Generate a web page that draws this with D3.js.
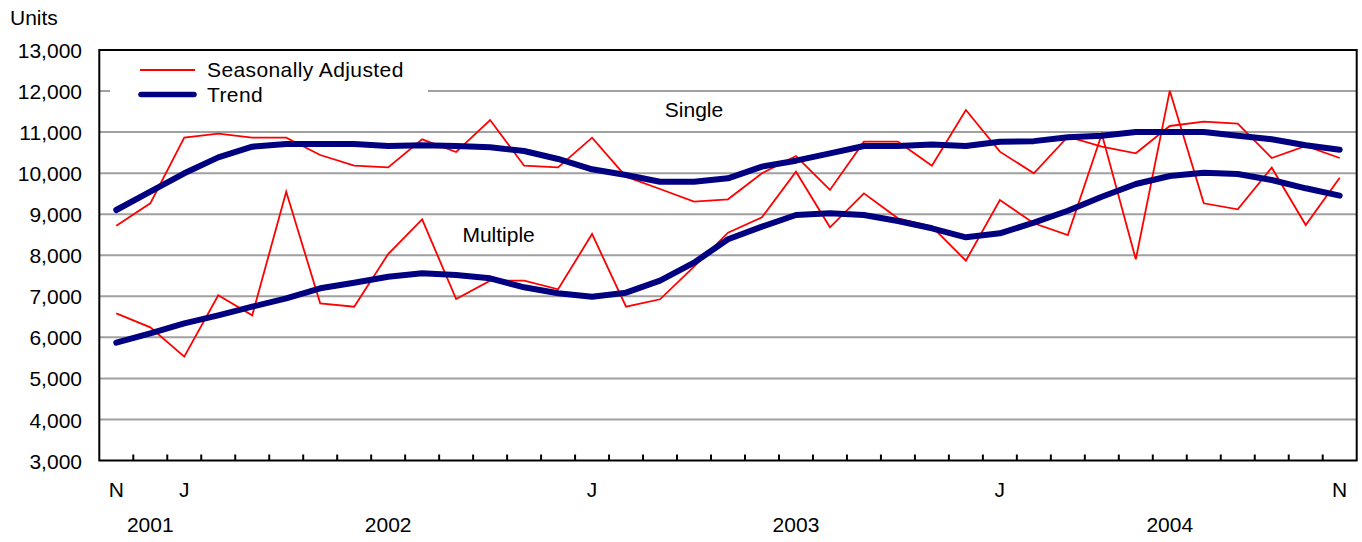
<!DOCTYPE html>
<html>
<head>
<meta charset="utf-8">
<script src="https://cdn.jsdelivr.net/npm/d3@7"></script>
<style>
  html, body { margin: 0; padding: 0; background: #fff; }
  svg { display: block; font-family: "Liberation Sans", Arial, Helvetica, sans-serif; }
</style>
</head>
<body>
<svg id="chart" width="1362" height="542"></svg>
<script>
// ---- Data ----
const months = [
  "2001-11","2001-12",
  "2002-01","2002-02","2002-03","2002-04","2002-05","2002-06","2002-07","2002-08","2002-09","2002-10","2002-11","2002-12",
  "2003-01","2003-02","2003-03","2003-04","2003-05","2003-06","2003-07","2003-08","2003-09","2003-10","2003-11","2003-12",
  "2004-01","2004-02","2004-03","2004-04","2004-05","2004-06","2004-07","2004-08","2004-09","2004-10","2004-11"
];

const singleSA = [
  8720, 9265, 10864, 10961, 10864, 10864, 10442, 10182, 10142, 10824, 10515, 11295,
  10182, 10142, 10864, 9914, 9614, 9305, 9363, 9996, 10418, 9590, 10767, 10767,
  10182, 11538, 10524, 9996, 10889, 10645, 10483, 11149, 11254, 11205, 10369, 10661, 10369
];
const singleTrend = [
  9102, 9549, 9996, 10385, 10645, 10710, 10710, 10710, 10661, 10680, 10661, 10629,
  10540, 10345, 10093, 9955, 9792, 9792, 9874, 10158, 10304, 10483, 10661, 10661,
  10700, 10661, 10767, 10780, 10873, 10913, 11003, 11003, 11003, 10913, 10824, 10678, 10572
];
const multipleSA = [
  6585, 6244, 5529, 7024, 6537, 9549, 6829, 6747, 8030, 8875, 6934, 7381,
  7381, 7170, 8518, 6747, 6927, 7722, 8550, 8924, 10036, 8680, 9508, 8900,
  8696, 7868, 9346, 8778, 8493, 10954, 7901, 12009, 9265, 9119, 10133, 8737, 9889
];
const multipleTrend = [
  5870, 6099, 6342, 6537, 6747, 6951, 7195, 7331, 7478, 7560, 7519, 7438,
  7219, 7073, 6990, 7088, 7381, 7819, 8389, 8696, 8981, 9022, 8981, 8834,
  8657, 8437, 8535, 8793, 9085, 9426, 9736, 9931, 10011, 9979, 9833, 9631, 9451
];

const yTicks = [3000, 4000, 5000, 6000, 7000, 8000, 9000, 10000, 11000, 12000, 13000];
const monthTickMonths = ["2001-11", "2002-01", "2003-01", "2004-01", "2004-11"];
const monthTickLetters = ["N", "J", "J", "J", "N"];
const yearLabels = ["2001", "2002", "2003", "2004"];
const yearLabelMonths = ["2001-12", "2002-07", "2003-07", "2004-06"];
const seriesNames = ["Seasonally Adjusted", "Trend"];
const seriesLabels = ["Single", "Multiple"];
const seriesLabelMonthPos = [17, 11.25];   // month index (fractional) of label centre
const seriesLabelValues = [11368, 8323];

// ---- Layout ----
const FS = 21;
const svg = d3.select("#chart");
const plot = { left: 99.3, right: 1356.7, top: 50, bottom: 460.5 };

const x = d3.scaleBand().domain(months).range([plot.left, plot.right]).paddingInner(0).paddingOuter(0);
const bw = x.bandwidth();
const xc = m => x(m) + bw / 2;
const xi = d3.scaleLinear().domain([0, months.length - 1]).range([xc(months[0]), xc(months[months.length - 1])]);
const y = d3.scaleLinear().domain([3000, 13000]).range([plot.bottom, plot.top]);

const RED = "#ff0000";
const NAVY = "#000080";

// gridlines
svg.append("g").selectAll("line")
  .data(yTicks.filter(v => v > 3000 && v < 13000))
  .join("line")
  .attr("x1", plot.left).attr("x2", plot.right)
  .attr("y1", d => y(d)).attr("y2", d => y(d))
  .attr("stroke", "#a0a0a0").attr("stroke-width", 2);

// y axis labels
const yAxis = d3.axisLeft(y).tickValues(yTicks).tickSize(0).tickPadding(0)
  .tickFormat(d3.format(","));
const yg = svg.append("g").attr("transform", `translate(${82},0)`).call(yAxis);
yg.select(".domain").remove();
yg.selectAll("text").attr("font-size", FS).attr("fill", "#000")
  .attr("font-family", "'Liberation Sans', Arial, sans-serif").attr("dy", "0.36em");

// "Units"
svg.append("text").attr("x", 10).attr("y", 25).attr("font-size", FS).text("Units");

// legend background
svg.append("rect").attr("x", 110).attr("y", 52).attr("width", 318).attr("height", 60).attr("fill", "#fff");

// lines
const lineGen = vals => d3.line().x((d, i) => xc(months[i])).y(d => y(d))(vals);

[singleSA, multipleSA].forEach(v => {
  svg.append("path").attr("d", lineGen(v)).attr("fill", "none")
    .attr("stroke", RED).attr("stroke-width", 1.8).attr("stroke-linejoin", "miter");
});
[singleTrend, multipleTrend].forEach(v => {
  svg.append("path").attr("d", lineGen(v)).attr("fill", "none")
    .attr("stroke", NAVY).attr("stroke-width", 6).attr("stroke-linejoin", "round").attr("stroke-linecap", "round");
});

// frame
svg.append("rect").attr("x", plot.left).attr("y", plot.top)
  .attr("width", plot.right - plot.left).attr("height", plot.bottom - plot.top)
  .attr("fill", "none").attr("stroke", "#000").attr("stroke-width", 2);

// x ticks at month boundaries (inside)
svg.append("g").selectAll("line")
  .data(months.slice(1))
  .join("line")
  .attr("x1", d => x(d)).attr("x2", d => x(d))
  .attr("y1", plot.bottom).attr("y2", plot.bottom - 6)
  .attr("stroke", "#000").attr("stroke-width", 2);

// month letters
svg.append("g").selectAll("text")
  .data(monthTickMonths)
  .join("text")
  .attr("x", d => xc(d)).attr("y", 497)
  .attr("text-anchor", "middle").attr("font-size", FS)
  .text((d, i) => monthTickLetters[i]);

// year labels
svg.append("g").selectAll("text")
  .data(yearLabelMonths)
  .join("text")
  .attr("x", d => xc(d)).attr("y", 532)
  .attr("text-anchor", "middle").attr("font-size", FS)
  .text((d, i) => yearLabels[i]);

// series labels
svg.append("g").selectAll("text")
  .data(seriesLabels)
  .join("text")
  .attr("x", (d, i) => xi(seriesLabelMonthPos[i])).attr("y", (d, i) => y(seriesLabelValues[i]))
  .attr("text-anchor", "middle").attr("font-size", FS)
  .text(d => d);

// legend
const lg = svg.append("g");
lg.append("line").attr("x1", 140).attr("x2", 195).attr("y1", 70).attr("y2", 70)
  .attr("stroke", RED).attr("stroke-width", 1.8);
lg.append("line").attr("x1", 141).attr("x2", 194).attr("y1", 94.5).attr("y2", 94.5)
  .attr("stroke", NAVY).attr("stroke-width", 5.5).attr("stroke-linecap", "round");
lg.selectAll("text.lt").data(seriesNames).join("text").attr("class", "lt")
  .attr("x", 207).attr("y", (d, i) => 77 + i * 25.3)
  .attr("font-size", FS).attr("letter-spacing", 0.4).text(d => d);
</script>
</body>
</html>
